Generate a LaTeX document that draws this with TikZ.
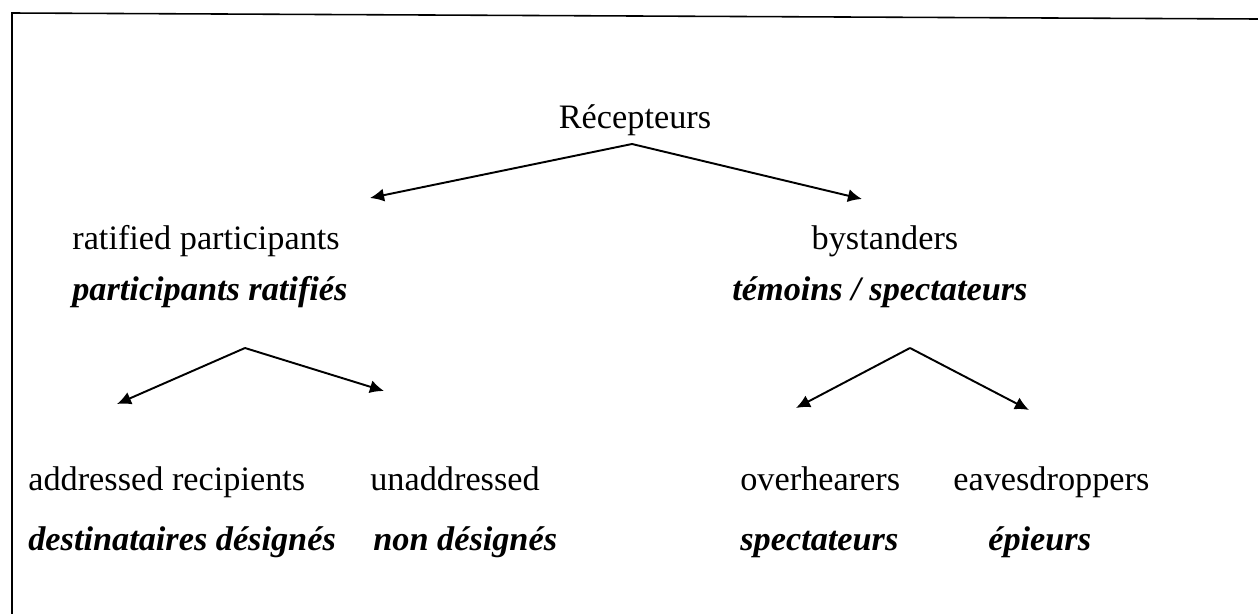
\documentclass[tikz,border=0pt]{standalone}
\usepackage{fontspec}
\setmainfont{Liberation Serif}
\usetikzlibrary{positioning,arrows.meta}

\tikzset{
  lbl/.style={font=\fontsize{19.5}{23}\selectfont, inner sep=0pt, anchor=base west},
  trad/.style={lbl, font=\fontsize{19.5}{23}\selectfont\bfseries\itshape},
  branch/.style={-{Latex[length=8pt,width=7.5pt]}, line width=1.1pt},
}

\begin{document}
\begin{tikzpicture}[x=.2mm, y=-.2mm]
  \useasboundingbox (0,0) rectangle (1258,614);
  % -- frame
  \draw[line width=.9pt] (12,614) -- (12,13) -- (1258,19);

  % -- labels
  \node[lbl, anchor=base] (rec) at (635,128) {Récepteurs};

  \node[lbl]  (ratif)   at (72,249)  {ratified participants};
  \node[trad] (ratifFr) at (72,300)  {participants ratifiés};
  \node[lbl, anchor=base] (bystd) at (885,249) {bystanders};
  \node[trad] (bystdFr) at (732,300) {témoins / spectateurs};

  \node[lbl]  (addr)     at (28,490)  {addressed recipients};
  \node[trad] (addrFr)   at (28,550)  {destinataires désignés};
  \node[lbl]  (unaddr)   at (370,490) {unaddressed};
  \node[trad] (unaddrFr) at (373,550) {non désignés};
  \node[lbl]  (overh)    at (740,490) {overhearers};
  \node[trad] (overhFr)  at (740,550) {spectateurs};
  \node[lbl]  (eaves)    at (953,490) {eavesdroppers};
  \node[trad] (eavesFr)  at (988,550) {épieurs};

  % -- branches
  \coordinate (recApex)   at (632,144);
  \coordinate (ratifTip)  at (370,198);
  \coordinate (bystdTip)  at (862,199);
  \coordinate (ratifApex) at (245,348);
  \coordinate (addrTip)   at (117,404);
  \coordinate (unaddrTip) at (384,391);
  \coordinate (bystdApex) at (910,348);
  \coordinate (overhTip)  at (796,408);
  \coordinate (eavesTip)  at (1029,410);

  \draw[branch] (recApex) -- (ratifTip);
  \draw[branch] (recApex) -- (bystdTip);
  \draw[branch] (ratifApex) -- (addrTip);
  \draw[branch] (ratifApex) -- (unaddrTip);
  \draw[branch] (bystdApex) -- (overhTip);
  \draw[branch] (bystdApex) -- (eavesTip);

\end{tikzpicture}
\end{document}
